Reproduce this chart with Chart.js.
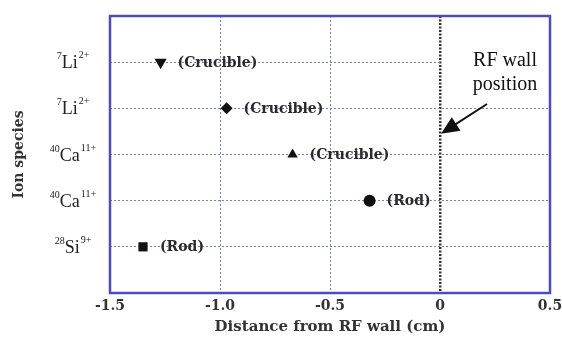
<!DOCTYPE html>
<html>
<head>
<meta charset="utf-8">
<script src="https://cdn.jsdelivr.net/npm/chart.js@4.4.1/dist/chart.umd.min.js"></script>
<style>
    html, body { margin: 0; padding: 0; background: #ffffff; }
</style>
</head>
<body>
<canvas id="ionChart" width="562" height="341"></canvas>
<script>
// Data (rows counted from the bottom)
const rows = [1, 2, 3, 4, 5];
const massNumbers = ['28', '40', '40', '7', '7'];
const elements = ['Si', 'Ca', 'Ca', 'Li', 'Li'];
const charges = ['9+', '11+', '11+', '2+', '2+'];
const distances = [-1.35, -0.32, -0.67, -0.97, -1.27];
const sources = ['(Rod)', '(Rod)', '(Crucible)', '(Crucible)', '(Crucible)'];
const xTickValues = [-1.5, -1.0, -0.5, 0, 0.5];
const xTickLabels = ['-1.5', '-1.0', '-0.5', '0', '0.5'];
const wallPosition = 0;

const frameBlue = '#4c4cbb';
const gridBlue = '#7a7ad0';

// marker shapes per row: square, circle, triangle, diamond, down triangle
const markerStyles = ['rect', 'circle', 'triangle', 'rectRot', 'triangle'];
const markerRotation = [0, 0, 0, 0, 180];
const markerRadius = [6.5, 6, 6, 6, 7];

function isWall(value) {
    return Math.abs(value - wallPosition) < 1e-6;
}

// point labels like "(Crucible)" and the ion names on the left
const labelsPlugin = {
    id: 'labelsPlugin',
    afterDatasetsDraw(chart) {
        const ctx = chart.ctx;
        const x = chart.scales.x;
        const y = chart.scales.y;
        ctx.save();
        ctx.fillStyle = '#2a2a2a';
        ctx.font = 'bold 14px "DejaVu Serif"';
        ctx.textAlign = 'left';
        ctx.textBaseline = 'middle';
        for (let i = 0; i < rows.length; i++) {
            const px = x.getPixelForValue(distances[i]);
            const py = y.getPixelForValue(rows[i]);
            ctx.fillText(sources[i], px + 17, py + 1);
        }
        ctx.restore();
    },
    afterDraw(chart) {
        const ctx = chart.ctx;
        const area = chart.chartArea;
        const x = chart.scales.x;
        const y = chart.scales.y;

        // ion species tick labels with superscripts
        ctx.save();
        ctx.fillStyle = '#222';
        ctx.textBaseline = 'alphabetic';
        ctx.textAlign = 'left';
        const bigFont = '18px "Liberation Serif"';
        const smallFont = '10px "Liberation Serif"';
        for (let i = 0; i < rows.length; i++) {
            const py = y.getPixelForValue(rows[i]);
            ctx.font = smallFont;
            const wMass = ctx.measureText(massNumbers[i]).width;
            const wCharge = ctx.measureText(charges[i]).width;
            ctx.font = bigFont;
            const wEl = ctx.measureText(elements[i]).width + 1;
            let cx = 73 - (wMass + wEl + wCharge) / 2;
            ctx.font = smallFont;
            ctx.fillText(massNumbers[i], cx, py - 3);
            cx += wMass;
            ctx.font = bigFont;
            ctx.fillText(elements[i], cx, py + 6);
            cx += wEl;
            ctx.font = smallFont;
            ctx.fillText(charges[i], cx, py - 4);
        }
        ctx.restore();

        // "RF wall position" note with an arrow to the wall line
        const wallX = x.getPixelForValue(wallPosition);
        ctx.save();
        ctx.fillStyle = '#ffffff';
        ctx.fillRect(wallX + 2, 40, area.right - wallX - 4, 62);
        ctx.fillStyle = '#111';
        ctx.font = '20px "Liberation Serif"';
        ctx.textAlign = 'center';
        ctx.textBaseline = 'alphabetic';
        const noteX = 505;
        ctx.fillText('RF wall', noteX, 66);
        ctx.fillText('position', noteX, 90);

        const tipX = wallX + 1;
        const tipY = y.getPixelForValue(3.45);
        const fromX = 487, fromY = 104;
        const ang = Math.atan2(tipY - fromY, tipX - fromX);
        ctx.strokeStyle = '#111';
        ctx.lineWidth = 2;
        ctx.beginPath();
        ctx.moveTo(fromX, fromY);
        ctx.lineTo(tipX - 12 * Math.cos(ang), tipY - 12 * Math.sin(ang));
        ctx.stroke();
        ctx.beginPath();
        ctx.moveTo(tipX, tipY);
        ctx.lineTo(tipX - 18 * Math.cos(ang) + 8 * Math.sin(ang), tipY - 18 * Math.sin(ang) - 8 * Math.cos(ang));
        ctx.lineTo(tipX - 18 * Math.cos(ang) - 8 * Math.sin(ang), tipY - 18 * Math.sin(ang) + 8 * Math.cos(ang));
        ctx.closePath();
        ctx.fill();
        ctx.restore();

        // blue frame round the plot area
        ctx.save();
        ctx.strokeStyle = frameBlue;
        ctx.lineWidth = 2.5;
        ctx.strokeRect(area.left, area.top, area.right - area.left, area.bottom - area.top);
        ctx.restore();
    }
};

const points = distances.map((d, i) => ({ x: d, y: rows[i] }));

new Chart(document.getElementById('ionChart').getContext('2d'), {
    type: 'scatter',
    data: {
        datasets: [{
            label: 'Ion species',
            data: points,
            pointStyle: markerStyles,
            rotation: markerRotation,
            pointRadius: markerRadius,
            backgroundColor: '#111',
            borderColor: '#111',
            borderWidth: 0
        }]
    },
    options: {
        responsive: false,
        animation: false,
        devicePixelRatio: 1,
        layout: {
            padding: { top: 16, right: 0, left: 0, bottom: 0 }
        },
        plugins: {
            legend: { display: false },
            tooltip: { enabled: false }
        },
        scales: {
            x: {
                type: 'linear',
                min: -1.5,
                max: 0.5,
                afterFit: function(scale) {
                    scale.height = 48;
                    scale.paddingLeft = 0;
                    scale.paddingRight = 12;
                },
                afterBuildTicks: function(scale) {
                    scale.ticks = xTickValues.map(v => ({ value: v }));
                },
                ticks: {
                    padding: 5,
                    color: '#333',
                    font: { family: 'DejaVu Serif', weight: 'bold', size: 14 },
                    callback: function(value) {
                        const idx = xTickValues.findIndex(v => Math.abs(v - value) < 1e-6);
                        return idx >= 0 ? xTickLabels[idx] : '';
                    }
                },
                grid: {
                    drawTicks: false,
                    color: function(c) {
                        if (!c.tick) return 'rgba(0,0,0,0)';
                        if (isWall(c.tick.value)) return '#333';
                        return gridBlue;
                    },
                    lineWidth: function(c) {
                        return c.tick && isWall(c.tick.value) ? 2.5 : 1;
                    }
                },
                border: {
                    display: false,
                    dash: function(c) {
                        return c.tick && isWall(c.tick.value) ? [2, 1.5] : [2, 2];
                    }
                },
                title: {
                    display: true,
                    text: 'Distance from RF wall (cm)',
                    color: '#333',
                    font: { family: 'DejaVu Serif', weight: 'bold', size: 15 },
                    padding: { top: 0, bottom: 5 }
                }
            },
            y: {
                type: 'linear',
                min: 0,
                max: 6,
                afterFit: function(scale) { scale.width = 110; },
                ticks: {
                    display: false,
                    stepSize: 1
                },
                grid: {
                    drawTicks: false,
                    color: function(c) {
                        if (!c.tick) return 'rgba(0,0,0,0)';
                        return rows.includes(c.tick.value) ? gridBlue : 'rgba(0,0,0,0)';
                    }
                },
                border: {
                    display: false,
                    dash: [2, 2]
                },
                title: {
                    display: true,
                    text: 'Ion species',
                    color: '#333',
                    font: { family: 'DejaVu Serif', weight: 'bold', size: 14 },
                    padding: { top: 11, bottom: 0 }
                }
            }
        }
    },
    plugins: [labelsPlugin]
});
</script>
</body>
</html>
